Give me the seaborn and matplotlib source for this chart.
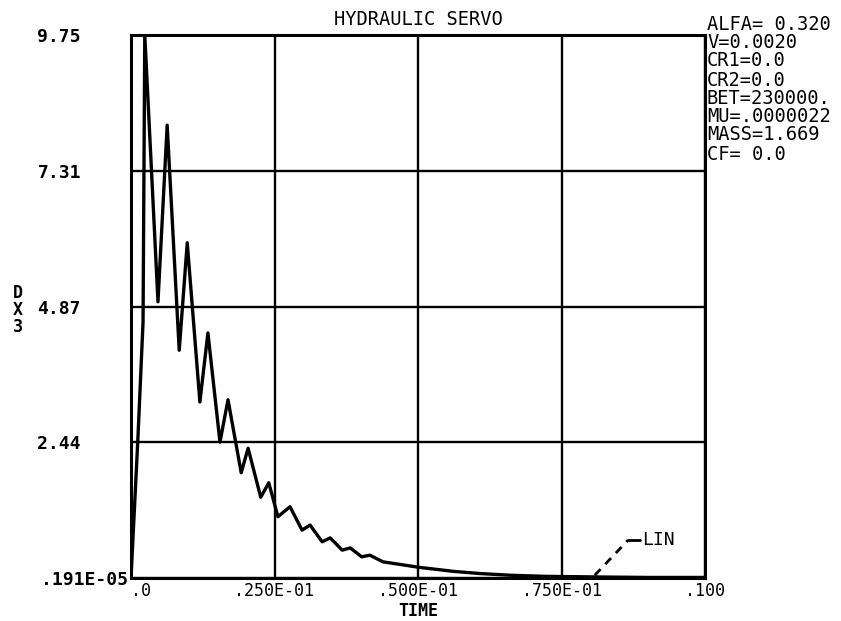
import matplotlib
matplotlib.use("Agg")
import matplotlib.pyplot as plt
import seaborn as sns
import pandas as pd

# ---- data ----
time = [0.0, 0.0012, 0.0021, 0.0024, 0.0047, 0.0063, 0.0084, 0.0098, 0.0120, 0.0134,
        0.0155, 0.0169, 0.0192, 0.0204, 0.0226, 0.0240, 0.0256, 0.0277, 0.0298, 0.0312,
        0.0333, 0.0347, 0.0368, 0.0382, 0.0402, 0.0416, 0.0439, 0.0503, 0.0561, 0.0608,
        0.0660, 0.0720, 0.0800, 0.0900, 0.1000]
dx3 = [0.0, 2.5, 4.6, 9.75, 4.96, 8.13, 4.09, 6.02, 3.16, 4.40,
       2.44, 3.20, 1.89, 2.33, 1.45, 1.71, 1.10, 1.28, 0.86, 0.95,
       0.65, 0.72, 0.50, 0.54, 0.38, 0.41, 0.29, 0.19, 0.12, 0.08,
       0.05, 0.03, 0.02, 0.01, 0.01]

x_ticks = [0.0, 0.025, 0.05, 0.075, 0.1]
x_tick_labels = [".0", ".250E-01", ".500E-01", ".750E-01", ".100"]
y_ticks = [0.0, 2.44, 4.87, 7.31, 9.75]
y_tick_labels = [".191E-05", "2.44", "4.87", "7.31", "9.75"]

title = "HYDRAULIC SERVO"
x_label = "TIME"
y_label = "D\nX\n3"
params = ["ALFA= 0.320", "V=0.0020", "CR1=0.0", "CR2=0.0", "BET=230000.",
          "MU=.0000022", "MASS=1.669", "CF= 0.0"]
curve_label = "LIN"
label_anchor = (0.0808, 0.05)
label_bend = (0.0866, 0.68)
label_end = (0.0886, 0.68)

# ---- figure ----
sns.set_style("white")
plt.rcParams["font.family"] = ["DejaVu Sans Mono", "DejaVu Sans"]
plt.rcParams["text.color"] = "black"
plt.rcParams["axes.labelcolor"] = "black"
plt.rcParams["xtick.color"] = "black"
plt.rcParams["ytick.color"] = "black"

W, H = 841, 621
fig = plt.figure(figsize=(W / 100, H / 100), dpi=100)
ax = fig.add_axes([131 / W, 1 - 578 / H, 574 / W, 543 / H])

df = pd.DataFrame({"TIME": time, "DX3": dx3})
sns.lineplot(data=df, x="TIME", y="DX3", ax=ax, color="black", lw=2.4,
             estimator=None, sort=False, zorder=5)

ax.set_xlim(0, 0.1)
ax.set_ylim(0, 9.75)
ax.set_xticks(x_ticks)
ax.set_xticklabels(x_tick_labels, fontsize=12)
ax.set_yticks(y_ticks)
ax.set_yticklabels(y_tick_labels, fontsize=13, fontweight="bold")
ax.tick_params(axis="both", length=0)
ax.tick_params(axis="x", pad=3)
yt = ax.yaxis.get_major_ticks()
for i, t in enumerate(yt):
    t.set_pad(36 if i > 0 else 2)
xt = ax.get_xticklabels()
xt[0].set_horizontalalignment("left")

ax.grid(True, color="black", lw=1.7)
for s in ax.spines.values():
    s.set_visible(True)
    s.set_color("black")
    s.set_linewidth(2.2)

ax.set_title(title, fontsize=13.5, pad=7, color="black")
ax.set_xlabel(x_label, fontsize=12, fontweight="bold", labelpad=1)
ax.set_ylabel(y_label, fontsize=12, fontweight="bold", rotation=0,
              linespacing=0.95, va="center", ha="center")
ax.yaxis.set_label_coords(-0.197, (578 - 310) / 543)

# parameter block on the right
ys = [24, 42, 61, 80, 98, 117, 135, 154]
for txt, yp in zip(params, ys):
    fig.text(707 / W, 1 - yp / H, txt, fontsize=13.5, ha="left", va="center",
             color="black")

# curve label with dashed leader
ax.plot([label_anchor[0], label_bend[0]], [label_anchor[1], label_bend[1]],
        color="black", lw=2, ls=(0, (3, 2.5)), clip_on=False)
ax.plot([label_bend[0], label_end[0]], [label_bend[1], label_end[1]],
        color="black", lw=2, clip_on=False)
ax.text(label_end[0] + 0.0004, label_end[1], curve_label, fontsize=13,
        ha="left", va="center", color="black")

fig.savefig("out.png", dpi=100)
